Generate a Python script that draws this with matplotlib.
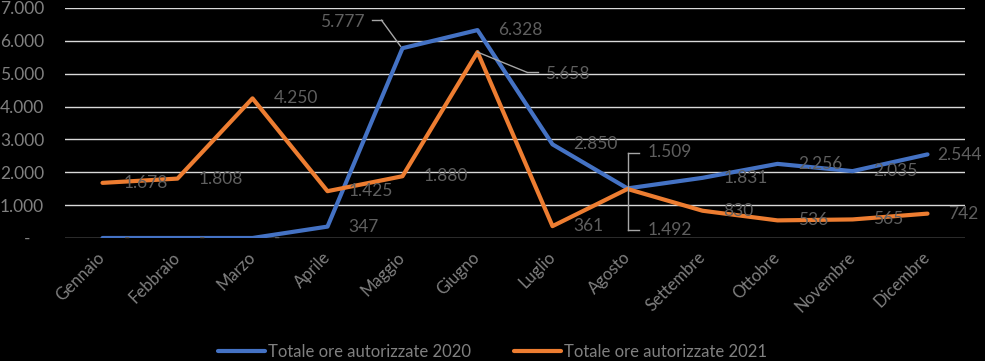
import matplotlib
matplotlib.use("Agg")
import matplotlib.pyplot as plt
from matplotlib.transforms import offset_copy
from matplotlib.ticker import FuncFormatter

plt.rcParams['font.family'] = ['Lato', 'DejaVu Sans']

months = ['Gennaio', 'Febbraio', 'Marzo', 'Aprile', 'Maggio', 'Giugno',
          'Luglio', 'Agosto', 'Settembre', 'Ottobre', 'Novembre', 'Dicembre']
ore_2020 = [0, 0, 0, 347, 5777, 6328, 2850, 1509, 1831, 2256, 2035, 2544]
ore_2021 = [1678, 1808, 4250, 1425, 1880, 5658, 361, 1492, 830, 536, 565, 742]
label_2020 = 'Totale ore autorizzate 2020'
label_2021 = 'Totale ore autorizzate 2021'

blue = '#4472C4'
orange = '#ED7D31'
lbl_col = '#5f5f5f'
tick_col = '#808080'


def fmt(v):
    # Italian thousands separator, dash for zero
    return '-' if v == 0 else f'{v:,.0f}'.replace(',', '.')


fig = plt.figure(figsize=(9.85, 3.61), dpi=100, facecolor='black')
ax = fig.add_axes([65 / 985, 123 / 361, 900 / 985, 230 / 361])
ax.set_facecolor('black')

x = list(range(len(months)))
ax.plot(x, ore_2020, color=blue, lw=3.0, zorder=3, solid_capstyle='round', label=label_2020)
ax.plot(x, ore_2021, color=orange, lw=3.0, zorder=3, solid_capstyle='round', label=label_2021)

ax.set_xlim(-0.5, 11.5)
ax.set_ylim(0, 7000)
ax.set_yticks(range(0, 7001, 1000))
ax.yaxis.set_major_formatter(FuncFormatter(lambda v, p: '-   ' if v == 0 else fmt(v)))
ax.grid(axis='y', color='#d9d9d9', lw=1.0, zorder=1)
ax.set_axisbelow(True)
for s in ax.spines.values():
    s.set_visible(False)
ax.tick_params(axis='y', length=0, pad=15, labelsize=12.5, labelcolor=tick_col)
ax.set_xticks(x)
ax.set_xticklabels(months, rotation=45, ha='right', va='center', rotation_mode='anchor')
ax.tick_params(axis='x', length=0, pad=12, labelsize=12, labelcolor=tick_col)


def put(i, v, dx, dy, ha='left'):
    # data label shifted by (dx, dy) pixels from the point
    tr = offset_copy(ax.transData, fig=fig, x=dx, y=dy, units='dots')
    ax.text(i, v, fmt(v), transform=tr, ha=ha, va='center', fontsize=12.5,
            color=lbl_col, zorder=4)


def leader(i, v, pts):
    # leader line through pixel offsets around the point
    for (x0, y0), (x1, y1) in zip(pts[:-1], pts[1:]):
        p0 = offset_copy(ax.transData, fig=fig, x=x0, y=y0, units='dots').transform((i, v))
        p1 = offset_copy(ax.transData, fig=fig, x=x1, y=y1, units='dots').transform((i, v))
        fx0, fy0 = fig.transFigure.inverted().transform(p0)
        fx1, fy1 = fig.transFigure.inverted().transform(p1)
        fig.add_artist(plt.Line2D([fx0, fx1], [fy0, fy1], color='#a6a6a6', lw=1.0, zorder=5))


# 2020 labels
for i, v in enumerate(ore_2020):
    if i == 4:
        put(i, v, -38, 26, ha='right')
        leader(i, v, [(-30, 28), (-21, 28), (-2, 2)])
    elif i == 7:
        put(i, v, 20, 36)
    elif i == 11:
        put(i, v, 10, -1)
    else:
        put(i, v, 21, 0)

# 2021 labels
for i, v in enumerate(ore_2021):
    if i == 5:
        put(i, v, 68, -22)
        leader(i, v, [(0, 0), (49, -20), (60, -20)])
    elif i == 7:
        put(i, v, 20, -41)
        leader(i, v, [(12, 36), (0, 36), (0, -41), (12, -41)])
    else:
        put(i, v, 21, 0)

fig.legend(loc='center', bbox_to_anchor=(0.5, 9 / 361), ncol=2, frameon=False,
           handlelength=2.8, handletextpad=0.2, columnspacing=2.6,
           fontsize=12, labelcolor=tick_col)

fig.savefig('out.png', dpi=100, facecolor='black')
